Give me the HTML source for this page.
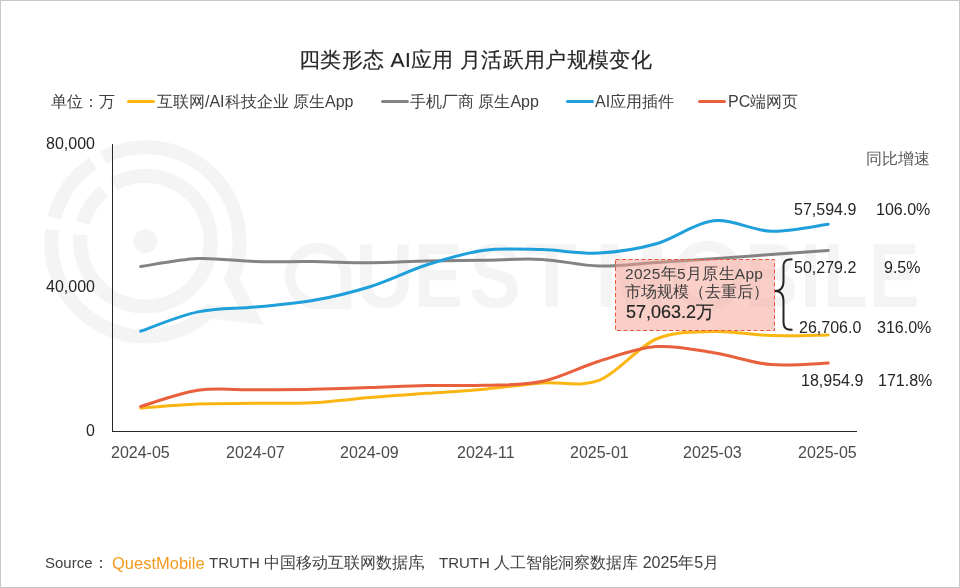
<!DOCTYPE html>
<html><head><meta charset="utf-8">
<style>
html,body{margin:0;padding:0;background:#fff;}
body{width:960px;height:588px;position:relative;overflow:hidden;font-family:"Liberation Sans",sans-serif;}
#frame{position:absolute;left:0;top:0;width:958px;height:586px;border:1px solid #c8c8c8;}
svg{position:absolute;left:0;top:0;}
.t{position:absolute;white-space:nowrap;line-height:1;will-change:transform;}
#title{left:299px;top:49px;font-size:21px;letter-spacing:0.35px;color:#262626;-webkit-text-stroke:0.15px #262626;}
.leg{top:93.5px;font-size:16px;color:#404040;}
.sw{position:absolute;top:99.5px;height:3.5px;border-radius:2px;width:28px;}
.yl{font-size:16px;color:#262626;}
.xl{font-size:16px;color:#4a4a4a;top:445px;}
.num{font-size:16px;color:#262626;}
.src{top:555px;font-size:16px;color:#404040;}
#box{position:absolute;left:615px;top:259px;width:158px;height:70px;border:1px dashed #e8553c;background:rgba(243,160,145,0.5);}
</style></head>
<body>
<div id="frame"></div>
<svg width="960" height="588">
  <g fill="none" stroke="#f4f4f4" stroke-width="14" stroke-linejoin="miter">
    <path d="M92.9,163.3 A94,94 0 0 0 54.4,218.0"/>
    <path d="M52.2,229.8 A94,94 0 0 0 209.4,311.3 L251.5,316.5 L231.55,279 A94,94 0 0 0 103.1,157.3"/>
    <path d="M103.7,191.1 A65.3,65.3 0 0 0 82.8,222.9"/>
    <path d="M80.5,234.8 A65.3,65.3 0 1 0 113.6,184.2"/>
  </g>
  <circle cx="145.5" cy="241.25" r="12" fill="#f4f4f4"/>
  <g font-family="Liberation Sans" font-weight="bold" font-size="90" fill="#f4f4f4"><text transform="translate(355.5,307) scale(0.894,1)">U</text><text transform="translate(414.1,307) scale(0.808,1)">E</text><text transform="translate(469.4,307) scale(0.855,1)">S</text><text transform="translate(526.1,307) scale(0.929,1)">T</text><text transform="translate(595.1,307) scale(0.970,1)">M</text><text transform="translate(745.0,307) scale(0.821,1)">B</text><text transform="translate(799.9,307) scale(0.834,1)">I</text><text transform="translate(823.1,307) scale(0.810,1)">L</text><text transform="translate(868.8,307) scale(0.848,1)">E</text></g>
  <g fill="none" stroke="#f4f4f4" stroke-width="10.5" stroke-linejoin="miter"><path d="M346,276 A28,28 0 1 0 318,304 L346,304 Z"/><circle cx="708" cy="275.8" r="29.8"/></g>
</svg>
<div class="t" id="title">四类形态 AI应用 月活跃用户规模变化</div>
<div class="t leg" id="unit" style="left:51px">单位：万</div>
<div class="sw" style="left:127px;background:#fbb614"></div>
<div class="t leg" id="lg1" style="left:157px">互联网/AI科技企业 原生App</div>
<div class="sw" style="left:381px;background:#838383"></div>
<div class="t leg" id="lg2" style="left:410px">手机厂商 原生App</div>
<div class="sw" style="left:566px;background:#1fa0db"></div>
<div class="t leg" id="lg3" style="left:595px">AI应用插件</div>
<div class="sw" style="left:698px;background:#e8603c"></div>
<div class="t leg" id="lg4" style="left:727.5px">PC端网页</div>

<div class="t yl" id="y80" style="left:46px;top:136px">80,000</div>
<div class="t yl" id="y40" style="left:46px;top:279px">40,000</div>
<div class="t yl" id="y0" style="left:86px;top:423px">0</div>

<div class="t xl" id="x1" style="left:111px">2024-05</div>
<div class="t xl" id="x2" style="left:226px">2024-07</div>
<div class="t xl" id="x3" style="left:340px">2024-09</div>
<div class="t xl" id="x4" style="left:457px">2024-11</div>
<div class="t xl" id="x5" style="left:570px">2025-01</div>
<div class="t xl" id="x6" style="left:683px">2025-03</div>
<div class="t xl" id="x7" style="left:798px">2025-05</div>

<svg width="960" height="588">
  <line x1="112.5" y1="144" x2="112.5" y2="432" stroke="#262626" stroke-width="1"/>
  <line x1="112" y1="431.5" x2="857" y2="431.5" stroke="#262626" stroke-width="1"/>
  <g fill="none" stroke-width="3" stroke-linecap="round" stroke-linejoin="round">
    <path d="M140.7,266.5 C150.2,265.2 178.8,259.3 197.9,258.5 C217.0,257.7 236.2,261.0 255.2,261.5 C274.4,262.0 293.4,261.4 312.5,261.6 C331.6,261.8 350.8,262.8 369.9,262.7 C389.0,262.6 408.1,261.4 427.1,261.0 C446.2,260.6 465.3,260.5 484.4,260.2 C503.5,259.9 522.6,258.4 541.8,259.4 C560.9,260.4 579.9,265.5 599.0,266.0 C618.1,266.5 637.2,263.7 656.3,262.5 C675.4,261.3 694.5,260.1 713.6,258.8 C732.8,257.4 751.8,256.0 770.9,254.6 C790.0,253.2 818.7,251.1 828.2,250.4" stroke="#838383"/>
    <path d="M140.7,408.1 C150.2,407.4 178.8,404.8 197.9,404.0 C217.0,403.2 236.2,403.5 255.2,403.3 C274.4,403.1 293.4,403.7 312.5,402.7 C331.6,401.7 350.8,399.1 369.9,397.5 C389.0,395.9 408.1,394.7 427.1,393.3 C446.2,391.9 465.3,390.9 484.4,389.2 C503.5,387.5 522.6,384.4 541.8,382.9 C560.9,381.4 579.9,387.7 599.0,380.4 C618.1,373.1 637.2,347.1 656.3,339.0 C675.4,330.9 694.5,332.1 713.6,331.5 C732.8,330.9 751.8,335.0 770.9,335.6 C790.0,336.2 818.7,335.1 828.2,335.0" stroke="#fbb614"/>
    <path d="M140.7,331.2 C150.2,328.0 178.8,315.9 197.9,311.9 C217.0,307.9 236.2,308.9 255.2,307.0 C274.4,305.1 293.4,304.0 312.5,300.6 C331.6,297.2 350.8,292.7 369.9,286.7 C389.0,280.7 408.1,270.9 427.1,264.8 C446.2,258.7 465.3,252.7 484.4,250.2 C503.5,247.7 522.6,249.1 541.8,249.6 C560.9,250.1 579.9,254.1 599.0,253.1 C618.1,252.1 637.2,249.2 656.3,243.8 C675.4,238.4 694.5,222.9 713.6,220.8 C732.8,218.7 751.8,230.7 770.9,231.2 C790.0,231.8 818.7,225.4 828.2,224.2" stroke="#1fa0db"/>
    <path d="M140.7,406.5 C150.2,403.8 178.8,393.1 197.9,390.3 C217.0,387.5 236.2,390.0 255.2,389.8 C274.4,389.6 293.4,389.6 312.5,389.2 C331.6,388.8 350.8,388.1 369.9,387.5 C389.0,386.9 408.1,386.0 427.1,385.6 C446.2,385.2 465.3,386.0 484.4,385.3 C503.5,384.6 522.6,385.5 541.8,381.5 C560.9,377.5 579.9,367.1 599.0,361.2 C618.1,355.4 637.2,348.0 656.3,346.6 C675.4,345.2 694.5,349.7 713.6,352.7 C732.8,355.7 751.8,362.9 770.9,364.6 C790.0,366.3 818.7,363.4 828.2,363.1" stroke="#e8603c"/>
  </g>
</svg>
<svg width="960" height="588"><rect x="615.5" y="259.5" width="159" height="71" fill="rgba(243,160,145,0.5)" stroke="#e8553c" stroke-width="1" stroke-dasharray="4 2.5"/></svg>
<div class="t" id="bl1" style="left:625px;top:266px;font-size:15.5px;letter-spacing:0.3px;color:#404040">2025年5月原生App</div>
<div class="t" id="bl2" style="left:625px;top:284px;font-size:15.5px;color:#404040">市场规模（去重后）</div>
<div class="t" id="bl3" style="left:626px;top:303px;font-size:18px;color:#262626;-webkit-text-stroke:0.2px #262626">57,063.2万</div>
<svg width="960" height="588">
  <path d="M792.5,259.2 C786,259.2 783.5,261 783.5,267 L783.5,281 C783.5,287 781,291 775,291 C781,291 783.5,295 783.5,301 L783.5,322 C783.5,328 786,329.8 792.5,329.8" fill="none" stroke="#262626" stroke-width="2"/>
</svg>
<div class="t" id="yoy" style="left:866px;top:151px;font-size:16px;color:#595959">同比增速</div>
<div class="t num" id="v1" style="left:794px;top:202px">57,594.9</div>
<div class="t num" id="p1" style="left:876px;top:202px">106.0%</div>
<div class="t num" id="v2" style="left:794px;top:259.5px">50,279.2</div>
<div class="t num" id="p2" style="left:884px;top:259.5px">9.5%</div>
<div class="t num" id="v3" style="left:799px;top:319.5px">26,706.0</div>
<div class="t num" id="p3" style="left:877px;top:319.5px">316.0%</div>
<div class="t num" id="v4" style="left:801px;top:373px">18,954.9</div>
<div class="t num" id="p4" style="left:877.5px;top:373px">171.8%</div>

<div class="t src" id="s1" style="left:45px;font-size:15px">Source</div>
<div class="t src" id="s1b" style="left:93px">：</div>
<div class="t src" id="s2" style="left:111.5px;font-size:16.5px;color:#f39a1e;top:555px">QuestMobile</div>
<div class="t src" id="s3" style="left:209px"><span style="font-size:15px">TRUTH</span> 中国移动互联网数据库</div>
<div class="t src" id="s3b" style="left:415px">，</div>
<div class="t src" id="s4" style="left:438.5px"><span style="font-size:15px">TRUTH</span> 人工智能洞察数据库 2025年5月</div>
</body></html>
